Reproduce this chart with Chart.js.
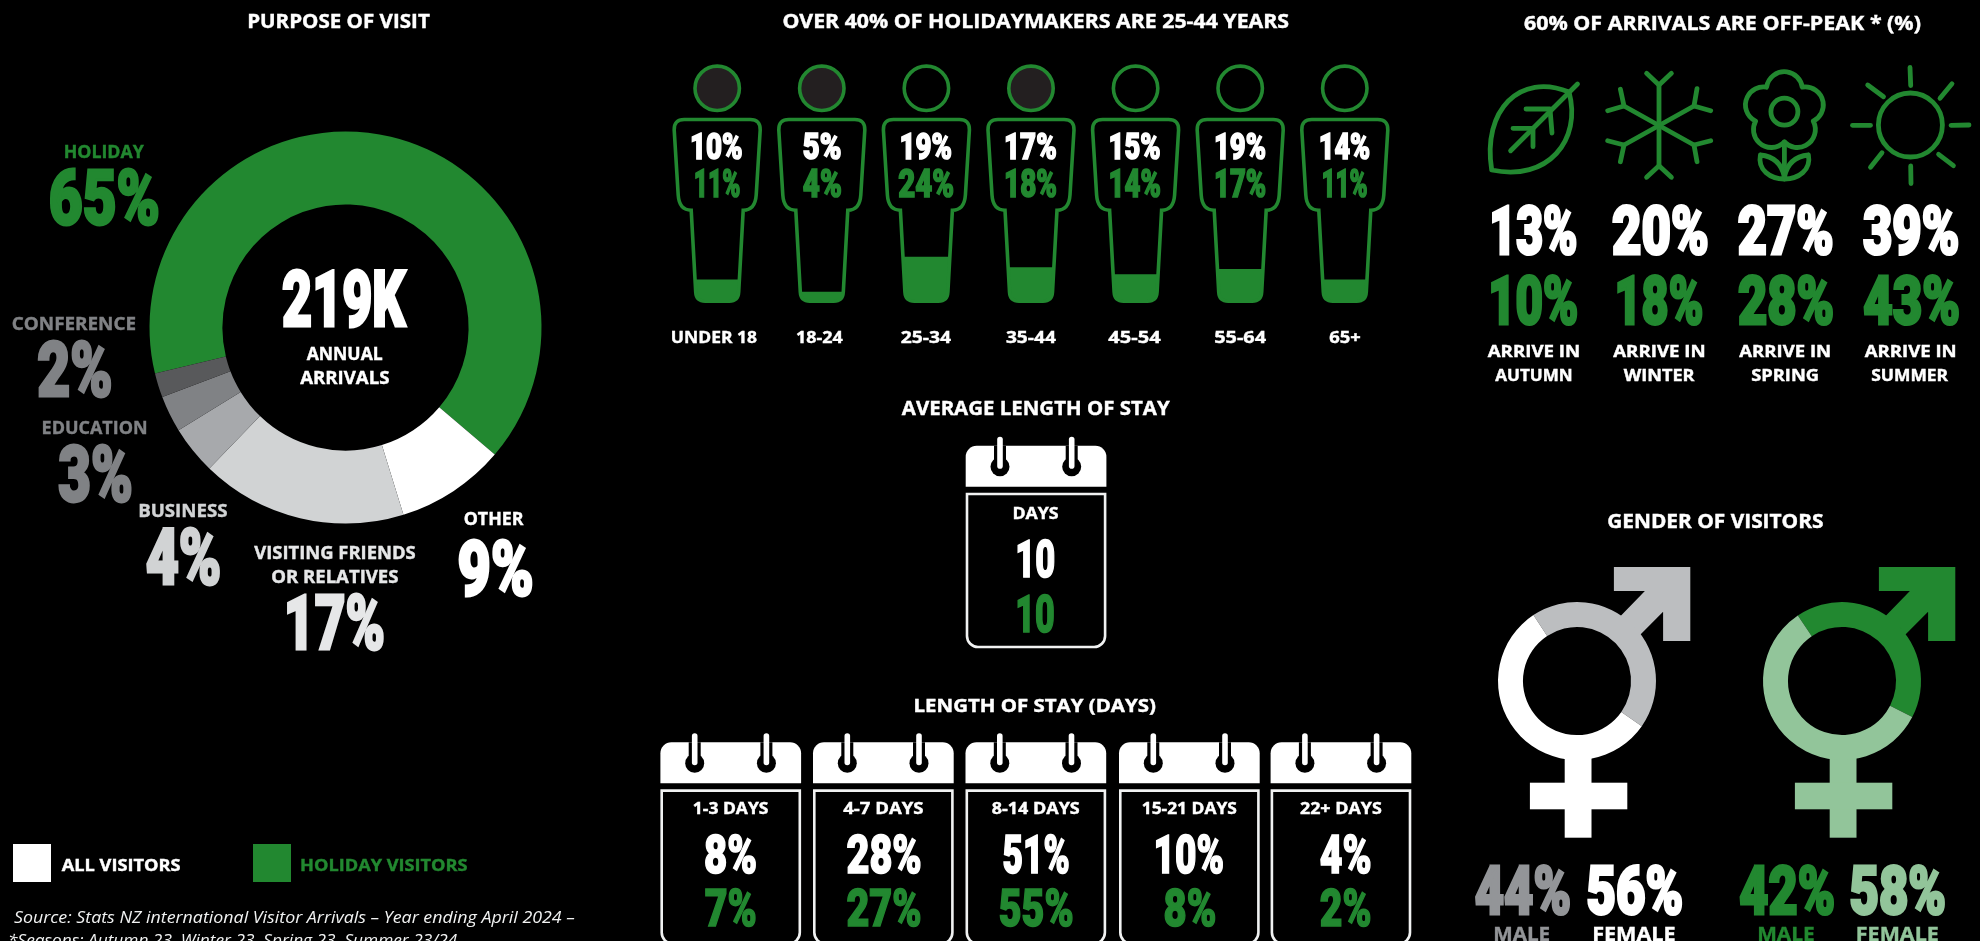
<!DOCTYPE html>
<html lang="en">
<head>
<meta charset="utf-8">
<title>Holiday visitors: annual arrivals profile</title>
<script src="https://cdn.jsdelivr.net/npm/chart.js@4/dist/chart.umd.min.js"></script>
<style>
  html, body { margin: 0; width: 1980px; height: 941px; background: #000; overflow: hidden; }
  canvas { position: absolute; left: 0; top: 0; }
</style>
</head>
<body>
<canvas id="purpose" width="1980" height="941"></canvas>
<canvas id="age" width="1980" height="941"></canvas>
<canvas id="genderAll" width="1980" height="941"></canvas>
<canvas id="genderHoliday" width="1980" height="941"></canvas>
<script>
// ---- Values ----
const annualArrivals = '219K';
const purposeLabels = ['Holiday', 'Other', 'Visiting friends or relatives', 'Business', 'Education', 'Conference'];
const purposeValues = [65, 9, 17, 4, 3, 2];

const ageLabels = ['UNDER 18', '18-24', '25-34', '35-44', '45-54', '55-64', '65+'];
const ageAllVisitors = [10, 5, 19, 17, 15, 19, 14];
const ageHolidayVisitors = [11, 4, 24, 18, 14, 17, 11];

const seasonLabels = ['AUTUMN', 'WINTER', 'SPRING', 'SUMMER'];
const seasonAllVisitors = [13, 20, 27, 39];
const seasonHolidayVisitors = [10, 18, 28, 43];

const averageStayAll = 10;
const averageStayHoliday = 10;

const stayLabels = ['1-3 DAYS', '4-7 DAYS', '8-14 DAYS', '15-21 DAYS', '22+ DAYS'];
const stayAllVisitors = [8, 28, 51, 10, 4];
const stayHolidayVisitors = [7, 27, 55, 8, 2];

const genderLabels = ['MALE', 'FEMALE'];
const genderAllVisitors = [44, 56];
const genderHolidayVisitors = [42, 58];

// ---- Palette ----
const GREEN = '#228830';
const PALE_GREEN = '#92c59a';
const WHITE = '#ffffff';
const purposeColours = [GREEN, WHITE, '#d1d3d4', '#a7a9ac', '#808285', '#58595b'];
const purposeTextColours = [GREEN, WHITE, '#e6e7e8', '#d1d3d4', '#808285', '#808285'];

// ---- Type ----
const HEAD = { family: '"Open Sans"', weight: 700, stroke: 0.4 };
const FIGURE = { family: 'Roboto', weight: 900, stroke: 3 };
const SMALL_FIGURE = { family: 'Roboto', weight: 900, stroke: 1.6 };
const NOTE = { family: '"Open Sans"', weight: 400, style: 'italic' };

// Draws text so its ink runs from left to right with capitals between top and base.
function fitText(ctx, str, left, right, top, base, face, colour) {
  const lw = face.stroke || 0;
  const style = face.style ? face.style + ' ' : '';
  ctx.save();
  ctx.font = `${style}${face.weight} 100px ${face.family}`;
  const capRatio = ctx.measureText('H').actualBoundingBoxAscent / 100;
  const size = (base - top - lw) / capRatio;
  ctx.font = `${style}${face.weight} ${size}px ${face.family}`;
  ctx.textAlign = 'left';
  ctx.textBaseline = 'alphabetic';
  const m = ctx.measureText(str);
  const ink = m.actualBoundingBoxLeft + m.actualBoundingBoxRight;
  const sx = (right - left) / (ink + lw);
  ctx.translate(left + sx * (lw / 2 + m.actualBoundingBoxLeft), base - lw / 2);
  ctx.scale(sx, 1);
  ctx.fillStyle = colour;
  ctx.fillText(str, 0, 0);
  if (lw) {
    ctx.strokeStyle = colour;
    ctx.lineWidth = lw;
    ctx.lineJoin = 'miter';
    ctx.strokeText(str, 0, 0);
  }
  ctx.restore();
}

function polyline(ctx, pts) {
  ctx.beginPath();
  pts.forEach((p, i) => (i ? ctx.lineTo(p[0], p[1]) : ctx.moveTo(p[0], p[1])));
  ctx.stroke();
}

// ---- Season icons ----
function drawLeaf(ctx) {
  ctx.beginPath();
  ctx.moveTo(1569, 92);
  ctx.bezierCurveTo(1520, 72, 1482, 110, 1491.7, 170);
  ctx.bezierCurveTo(1548, 182, 1582, 140, 1569, 92);
  ctx.stroke();
  polyline(ctx, [[1577.5, 84], [1510.6, 150.7]]);
  polyline(ctx, [[1526, 109], [1550, 109], [1552, 133]]);
  polyline(ctx, [[1513, 128.3], [1533, 128.3], [1533, 146.7]]);
}

function drawSnowflake(ctx) {
  const cx = 1659;
  polyline(ctx, [[cx, 85], [cx, 165.7]]);
  polyline(ctx, [[1624, 106], [1694, 145]]);
  polyline(ctx, [[1624, 145], [1694, 106]]);
  polyline(ctx, [[1646.6, 73.3], [cx, 85], [1671.4, 73.3]]);
  polyline(ctx, [[1646.6, 177.3], [cx, 165.7], [1671.4, 177.3]]);
  polyline(ctx, [[1697, 88.7], [1694, 106], [1710.7, 110.7]]);
  polyline(ctx, [[1620.4, 89.3], [1624, 106], [1607.7, 110.7]]);
  polyline(ctx, [[1710.7, 140.7], [1694, 145], [1697, 161.7]]);
  polyline(ctx, [[1607.7, 140.7], [1624, 145], [1620.4, 161.7]]);
}

function drawFlower(ctx) {
  const cx = 1784.4, cy = 111.7, d = 22, r = 18, cusp = 30.3;
  const polar = (deg, dist) => {
    const a = deg * Math.PI / 180;
    return [cx + dist * Math.sin(a), cy - dist * Math.cos(a)];
  };
  ctx.beginPath();
  for (let i = 0; i < 5; i++) {
    const c = polar(72 * i, d);
    const from = polar(72 * i - 36, cusp);
    const to = polar(72 * i + 36, cusp);
    ctx.arc(c[0], c[1], r,
      Math.atan2(from[1] - c[1], from[0] - c[0]),
      Math.atan2(to[1] - c[1], to[0] - c[0]));
  }
  ctx.closePath();
  ctx.stroke();
  ctx.beginPath();
  ctx.arc(cx, cy, 13.5, 0, Math.PI * 2);
  ctx.stroke();
  polyline(ctx, [[cx, 142], [cx, 177]]);
  [-1, 1].forEach(side => {
    ctx.beginPath();
    ctx.moveTo(cx + side * 24, 155);
    ctx.quadraticCurveTo(cx + side * 4, 157, cx, 177);
    ctx.moveTo(cx + side * 24, 155);
    ctx.bezierCurveTo(cx + side * 27, 170, cx + side * 14, 179, cx, 179);
    ctx.stroke();
  });
}

function drawSun(ctx) {
  ctx.beginPath();
  ctx.arc(1910.4, 125, 32, 0, Math.PI * 2);
  ctx.stroke();
  [
    [[1910, 67.5], [1910.7, 85.5]], [[1910.7, 166], [1911, 183.5]],
    [[1852.5, 125.3], [1870.5, 125.3]], [[1951, 125.3], [1969, 125]],
    [[1940, 98.3], [1952, 83.8]], [[1867.7, 85], [1883.5, 96.7]],
    [[1938.6, 154.3], [1953.4, 165.7]], [[1870.5, 167.3], [1882, 152.7]]
  ].forEach(ray => polyline(ctx, ray));
}

// ---- Calendars ----
function calendarShape(ctx, left, top) {
  const w = 140.7, headH = 41, bodyTop = top + 47, bodyH = 155.6;
  ctx.fillStyle = WHITE;
  ctx.beginPath();
  ctx.roundRect(left, top, w, headH, [11, 11, 0, 0]);
  ctx.fill();
  [34.3, 106].forEach(dx => {
    const x = left + dx;
    ctx.fillStyle = '#000';
    ctx.beginPath();
    ctx.arc(x, top + 21, 9.5, 0, Math.PI * 2);
    ctx.fill();
    ctx.fillRect(x - 6, top, 12, 21);
    ctx.fillStyle = WHITE;
    ctx.beginPath();
    ctx.roundRect(x - 2.8, top - 9, 5.6, 32, 2.8);
    ctx.fill();
  });
  ctx.strokeStyle = '#f1f2f2';
  ctx.lineWidth = 2.6;
  ctx.beginPath();
  ctx.roundRect(left + 1.3, bodyTop + 1.3, w - 2.6, bodyH - 2.6, [0, 0, 11, 11]);
  ctx.stroke();
}

// ---- Page furniture: headings, season block, stay blocks, legend, notes ----
const decorPlugin = {
  id: 'pageFurniture',
  afterDatasetsDraw(chart) {
    const ctx = chart.ctx;
    ctx.save();

    // Doughnut centre and category call-outs
    fitText(ctx, 'PURPOSE OF VISIT', 248, 430.6, 14, 28.6, HEAD, WHITE);
    fitText(ctx, annualArrivals, 282.4, 407, 269, 327.4, FIGURE, WHITE);
    fitText(ctx, 'ANNUAL', 306.5, 383, 347, 360, HEAD, WHITE);
    fitText(ctx, 'ARRIVALS', 300, 389, 371, 384, HEAD, WHITE);

    const callouts = [
      { names: [['HOLIDAY', 64.5, 144, 145, 158]], fig: [50, 159, 167, 225] },
      { names: [['OTHER', 464.5, 524.5, 512, 525.6]], fig: [458, 532.6, 538, 596] },
      { names: [['VISITING FRIENDS', 254, 416, 546, 559.4], ['OR RELATIVES', 272, 398, 570, 583]], fig: [287, 384, 592, 650] },
      { names: [['BUSINESS', 139, 227, 504, 517]], fig: [146, 220.4, 526, 585] },
      { names: [['EDUCATION', 42.4, 147, 421, 434.5]], fig: [58, 132, 443, 502] },
      { names: [['CONFERENCE', 12.6, 136, 317, 330.5]], fig: [37.5, 111.5, 339, 397] }
    ];
    callouts.forEach((c, i) => {
      const colour = purposeTextColours[i];
      c.names.forEach(n => fitText(ctx, n[0], n[1], n[2], n[3], n[4], HEAD, colour));
      fitText(ctx, purposeValues[i] + '%', c.fig[0], c.fig[1], c.fig[2], c.fig[3], FIGURE, colour);
    });

    // Seasons
    fitText(ctx, '60% OF ARRIVALS ARE OFF-PEAK * (%)', 1523.7, 1920.7, 16, 30, HEAD, WHITE);
    ctx.save();
    ctx.strokeStyle = GREEN;
    ctx.lineWidth = 4.8;
    ctx.lineCap = 'round';
    ctx.lineJoin = 'round';
    drawLeaf(ctx);
    drawSnowflake(ctx);
    drawFlower(ctx);
    drawSun(ctx);
    ctx.restore();
    const seasonAllSpan = [[1491.7, 1576.4], [1611.5, 1707.6], [1737.5, 1832.6], [1862.5, 1958.2]];
    const seasonHolSpan = [[1490.6, 1577.4], [1617, 1702.4], [1737.5, 1833], [1862.8, 1959]];
    const arriveSpan = [[1487.5, 1579.5], [1613, 1705], [1739, 1830.5], [1864.6, 1956]];
    const seasonSpan = [[1495, 1572], [1623.5, 1695.5], [1751, 1818.8], [1871, 1949]];
    seasonLabels.forEach((name, i) => {
      fitText(ctx, seasonAllVisitors[i] + '%', seasonAllSpan[i][0], seasonAllSpan[i][1], 204.3, 255.7, FIGURE, WHITE);
      fitText(ctx, seasonHolidayVisitors[i] + '%', seasonHolSpan[i][0], seasonHolSpan[i][1], 274, 325.3, FIGURE, GREEN);
      fitText(ctx, 'ARRIVE IN', arriveSpan[i][0], arriveSpan[i][1], 345, 356.7, HEAD, WHITE);
      fitText(ctx, name, seasonSpan[i][0], seasonSpan[i][1], 369, 380.7, HEAD, WHITE);
    });

    // Average stay
    fitText(ctx, 'AVERAGE LENGTH OF STAY', 901.6, 1170.6, 400.7, 415.3, HEAD, WHITE);
    calendarShape(ctx, 965.7, 445.7);
    fitText(ctx, 'DAYS', 1013.3, 1059, 507.3, 519.3, HEAD, WHITE);
    fitText(ctx, String(averageStayAll), 1017.3, 1054.3, 538.3, 577.3, SMALL_FIGURE, WHITE);
    fitText(ctx, String(averageStayHoliday), 1017.3, 1054.3, 593.3, 632.7, SMALL_FIGURE, GREEN);

    // Stay bands
    fitText(ctx, 'LENGTH OF STAY (DAYS)', 914.5, 1156.3, 699, 711.8, HEAD, WHITE);
    const calendarLeft = [660.4, 813, 965.5, 1119, 1270.6];
    const stayNameSpan = [[692.6, 768], [843, 923], [991.5, 1079.3], [1141.5, 1236.4], [1299.7, 1381.3]];
    const stayAllSpan = [[704.8, 755.8], [846.6, 920.6], [1003.3, 1068.6], [1155.8, 1223], [1320, 1370.6]];
    const stayHolSpan = [[704.8, 755.8], [846.6, 920.6], [999.7, 1072.7], [1164.5, 1215.5], [1320, 1370.6]];
    stayLabels.forEach((name, i) => {
      calendarShape(ctx, calendarLeft[i], 742.3);
      fitText(ctx, name, stayNameSpan[i][0], stayNameSpan[i][1], 802.7, 814.3, HEAD, WHITE);
      fitText(ctx, stayAllVisitors[i] + '%', stayAllSpan[i][0], stayAllSpan[i][1], 834.3, 874, SMALL_FIGURE, WHITE);
      fitText(ctx, stayHolidayVisitors[i] + '%', stayHolSpan[i][0], stayHolSpan[i][1], 887.3, 926.7, SMALL_FIGURE, GREEN);
    });

    // Key
    ctx.fillStyle = WHITE;
    ctx.fillRect(13, 844, 38, 38);
    ctx.fillStyle = GREEN;
    ctx.fillRect(253, 844, 38, 38);
    fitText(ctx, 'ALL VISITORS', 61.6, 180.8, 859, 871, HEAD, WHITE);
    fitText(ctx, 'HOLIDAY VISITORS', 301, 467.8, 859, 871, HEAD, GREEN);

    // Notes
    fitText(ctx, 'Source: Stats NZ international Visitor Arrivals – Year ending April 2024 –', 13.9, 574.7, 910.5, 922.7, NOTE, '#f1f2f2');
    fitText(ctx, '*Seasons: Autumn 23, Winter 23, Spring 23, Summer 23/24', 9, 458, 933.5, 945.7, NOTE, '#f1f2f2');

    ctx.restore();
  }
};

// ---- Figure silhouette holding each age band's bar ----
function personPath(cx) {
  const p = new Path2D();
  p.moveTo(cx - 33, 119.5);
  p.lineTo(cx + 33, 119.5);
  p.quadraticCurveTo(cx + 43.3, 119.5, cx + 43, 130);
  p.lineTo(cx + 39, 195);
  p.quadraticCurveTo(cx + 38, 210.2, cx + 26, 210.2);
  p.lineTo(cx + 21.5, 292);
  p.quadraticCurveTo(cx + 21, 301.2, cx + 12, 301.2);
  p.lineTo(cx - 12, 301.2);
  p.quadraticCurveTo(cx - 21, 301.2, cx - 21.5, 292);
  p.lineTo(cx - 26, 210.2);
  p.quadraticCurveTo(cx - 38, 210.2, cx - 39, 195);
  p.lineTo(cx - 43, 130);
  p.quadraticCurveTo(cx - 43.3, 119.5, cx - 33, 119.5);
  p.closePath();
  return p;
}

const shadedHeads = [true, true, false, true, false, false, false];
const allFigureSpan = [[-25.6, 25.4], [-18.8, 19.7], [-25.3, 25.4], [-25.3, 25.7], [-25.4, 25], [-24.6, 25.7], [-24.5, 25.4]];
const holidayFigureSpan = [[-22, 22.8], [-18.8, 19.7], [-28, 27.4], [-25.3, 25.7], [-25.4, 25], [-24.6, 25.7], [-22, 22.6]];
const ageNameSpan = [[-45.5, 39.5], [-26, 21.7], [-26, 25.4], [-25.3, 25.7], [-27.5, 25.9], [-26.2, 26.8], [-15.8, 15.6]];

const agePlugin = {
  id: 'ageFigures',
  beforeDatasetsDraw(chart) {
    // Bars only show inside the silhouettes
    const ctx = chart.ctx, xs = chart.scales.x;
    const region = new Path2D();
    ageLabels.forEach((_, i) => region.addPath(personPath(xs.getPixelForValue(i))));
    ctx.save();
    ctx.clip(region);
  },
  afterDatasetsDraw(chart) {
    const ctx = chart.ctx, xs = chart.scales.x;
    ctx.restore();
    fitText(ctx, 'OVER 40% OF HOLIDAYMAKERS ARE 25-44 YEARS', 783.3, 1288.8, 14.3, 28.3, HEAD, WHITE);
    ageLabels.forEach((name, i) => {
      const cx = xs.getPixelForValue(i);
      ctx.save();
      ctx.strokeStyle = GREEN;
      ctx.lineWidth = 3.6;
      ctx.stroke(personPath(cx));
      ctx.beginPath();
      ctx.arc(cx, 88.3, 22.2, 0, Math.PI * 2);
      if (shadedHeads[i]) {
        ctx.fillStyle = '#231f20';
        ctx.fill();
      }
      ctx.stroke();
      ctx.restore();
      fitText(ctx, ageAllVisitors[i] + '%', cx + allFigureSpan[i][0], cx + allFigureSpan[i][1], 130.7, 159.3, SMALL_FIGURE, WHITE);
      fitText(ctx, ageHolidayVisitors[i] + '%', cx + holidayFigureSpan[i][0], cx + holidayFigureSpan[i][1], 168.3, 197.3, SMALL_FIGURE, GREEN);
      fitText(ctx, name, cx + ageNameSpan[i][0], cx + ageNameSpan[i][1], 331, 343.3, HEAD, WHITE);
    });
  }
};

// ---- Gender rings with their arrow and cross ----
function genderPlugin(id, dx, maleColour, femaleColour, texts) {
  return {
    id,
    beforeDatasetsDraw(chart) {
      const ctx = chart.ctx;
      ctx.save();
      ctx.translate(dx, 0);
      ctx.fillStyle = maleColour;
      ctx.beginPath();
      [[1613.9, 567], [1690.3, 567], [1690.3, 641], [1663.1, 641], [1663.1, 611.7],
       [1635, 640], [1615.5, 621.3], [1644.9, 591], [1613.9, 591]]
        .forEach((p, i) => (i ? ctx.lineTo(p[0], p[1]) : ctx.moveTo(p[0], p[1])));
      ctx.closePath();
      ctx.fill();
      ctx.fillStyle = femaleColour;
      ctx.fillRect(1564.7, 750, 26.8, 87.7);
      ctx.fillRect(1529.9, 782.7, 97.4, 26.6);
      ctx.restore();
    },
    afterDatasetsDraw(chart) {
      const ctx = chart.ctx;
      const values = chart.data.datasets[0].data;
      if (texts.title) fitText(ctx, texts.title, 1608, 1823, 514, 528.3, HEAD, WHITE);
      [0, 1].forEach(i => {
        const t = texts.spans[i];
        fitText(ctx, values[i] + '%', t.fig[0], t.fig[1], 864.3, 915.7, FIGURE, t.figColour);
        fitText(ctx, chart.data.labels[i], t.name[0], t.name[1], 925.7, 940.7, HEAD, t.figColour);
      });
    }
  };
}

// ---- Charts ----
Chart.defaults.animation = false;
Chart.defaults.responsive = false;
Chart.defaults.devicePixelRatio = 1;
Chart.defaults.plugins.legend.display = false;
Chart.defaults.plugins.tooltip.enabled = false;

function regionPadding(left, right, top, bottom) {
  return { left, right: 1980 - right, top, bottom: 941 - bottom };
}

new Chart(document.getElementById('purpose'), {
  type: 'doughnut',
  data: {
    labels: purposeLabels,
    datasets: [{ data: purposeValues, backgroundColor: purposeColours, borderWidth: 0 }]
  },
  options: {
    rotation: 256.4,
    cutout: '62.8%',
    layout: { padding: regionPadding(149.5, 541.5, 131.5, 523.5) }
  },
  plugins: [decorPlugin]
});

new Chart(document.getElementById('age'), {
  type: 'bar',
  data: {
    labels: ageLabels,
    datasets: [{
      data: ageHolidayVisitors,
      backgroundColor: GREEN,
      borderWidth: 0,
      barPercentage: 1,
      categoryPercentage: 1,
      base: -2.114
    }]
  },
  options: {
    layout: { padding: regionPadding(664.9, 1397.1, 229, 302.7) },
    scales: {
      x: { display: false },
      y: { display: false, min: -2.114, max: 40 }
    }
  },
  plugins: [agePlugin]
});

new Chart(document.getElementById('genderAll'), {
  type: 'doughnut',
  data: {
    labels: genderLabels,
    datasets: [{ data: genderAllVisitors, backgroundColor: ['#bcbec0', WHITE], borderWidth: 0 }]
  },
  options: {
    rotation: 326.5,
    cutout: '68.4%',
    layout: { padding: regionPadding(1498, 1656, 602, 760) }
  },
  plugins: [genderPlugin('genderAllSymbol', 0, '#bcbec0', WHITE, {
    title: 'GENDER OF VISITORS',
    spans: [
      { fig: [1474.4, 1570], name: [1494, 1550], figColour: '#939598' },
      { fig: [1587, 1682], name: [1593, 1675.5], figColour: WHITE }
    ]
  })]
});

new Chart(document.getElementById('genderHoliday'), {
  type: 'doughnut',
  data: {
    labels: genderLabels,
    datasets: [{ data: genderHolidayVisitors, backgroundColor: [GREEN, PALE_GREEN], borderWidth: 0 }]
  },
  options: {
    rotation: 326,
    cutout: '68.4%',
    layout: { padding: regionPadding(1763, 1921, 602, 760) }
  },
  plugins: [genderPlugin('genderHolidaySymbol', 265, GREEN, PALE_GREEN, {
    spans: [
      { fig: [1739, 1834], name: [1758, 1814.6], figColour: GREEN },
      { fig: [1849.8, 1945], name: [1856.7, 1938.6], figColour: PALE_GREEN }
    ]
  })]
});
</script>
</body>
</html>
